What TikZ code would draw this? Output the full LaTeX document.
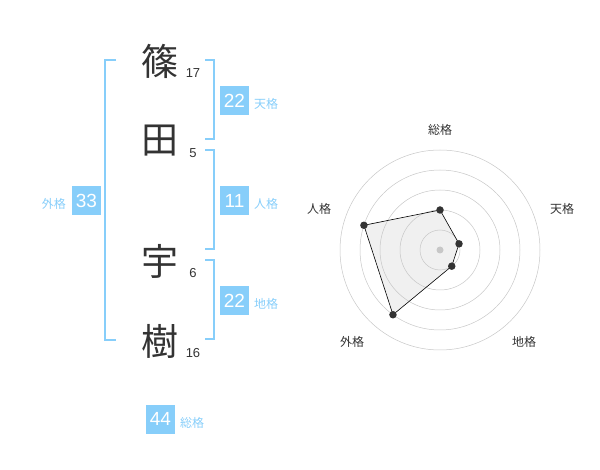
\documentclass[tikz,border=0pt]{standalone}
\usepackage{fontspec}
\usetikzlibrary{calc}
\setmainfont{Liberation Sans}
\newfontfamily\jp{Noto Sans CJK JP}
\definecolor{sky}{HTML}{87CEFA}
\definecolor{ink}{HTML}{333333}
\begin{document}
\begin{tikzpicture}[x=1pt,y=-1pt,
  kanji/.style={font=\jp\fontsize{37}{37}\selectfont, text=ink, inner sep=0pt},
  stroke/.style={font=\fontsize{13}{13}\selectfont, text=ink, inner sep=0pt},
  valbox/.style={fill=sky, text=white, font=\fontsize{19}{19}\selectfont, minimum width=29pt, minimum height=29pt, inner sep=0pt},
  vallabel/.style={text=sky, font=\jp\fontsize{12}{12}\selectfont, inner sep=0pt},
  brack/.style={draw=sky, line width=1.6pt},
  ring/.style={draw=black!22, line width=0.5pt},
  axlabel/.style={font=\jp\fontsize{12}{12}\selectfont, text=ink, inner sep=0pt},
  dot/.style={circle, fill=ink, inner sep=0pt, minimum size=7.5pt}]
\useasboundingbox (0,0) rectangle (600,470);
% kanji
\node[kanji] (k1) at (160,61) {篠};
\node[kanji] (k2) at (160,141) {田};
\node[kanji] (k3) at (160,261) {宇};
\node[kanji] (k4) at (160,341) {樹};
\node[stroke] (s1) at (193,73) {17};
\node[stroke] (s2) at (193,153) {5};
\node[stroke] (s3) at (193,273) {6};
\node[stroke] (s4) at (193,353) {16};
% brackets
\draw[brack] (116,60) -- (105,60) -- (105,340) -- (116,340);
\draw[brack] (205,60) -- (214,60) -- (214,139) -- (205,139);
\draw[brack] (205,150) -- (214,150) -- (214,249) -- (205,249);
\draw[brack] (205,260) -- (214,260) -- (214,339) -- (205,339);
% boxes
\node[valbox] (ten) at (234.5,100.5) {22};
\node[vallabel, anchor=west] (tenl) at (254,104) {天格};
\node[valbox] (jin) at (234.5,200.5) {11};
\node[vallabel, anchor=west] (jinl) at (254,204) {人格};
\node[valbox] (chi) at (234.5,300.5) {22};
\node[vallabel, anchor=west] (chil) at (254,304) {地格};
\node[valbox] (gai) at (86.5,200.5) {33};
\node[vallabel, anchor=east] (gail) at (66,204) {外格};
\node[valbox] (sou) at (160.5,419) {44};
\node[vallabel, anchor=west] (soul) at (180,423) {総格};
% radar
\coordinate (c) at (440,250);
\coordinate (pS) at ($(c)+(0,-40)$);
\path (c) ++(-18:20) coordinate (pT);
\path (c) ++(54:20) coordinate (pC);
\path (c) ++(126:80) coordinate (pG);
\path (c) ++(198:80) coordinate (pJ);
\path[fill=black!6] (pS) -- (pT) -- (pC) -- (pG) -- (pJ) -- cycle;
\foreach \r in {20,40,60,80,100} \draw[ring] (c) circle[radius=\r];
\draw[black, line width=0.6pt] (pS) -- (pT) -- (pC) -- (pG) -- (pJ) -- cycle;
\fill[black!22] (c) circle[radius=3.5];
\foreach \p in {pS,pT,pC,pG,pJ} \node[dot] at (\p) {};
\node[axlabel] (aS) at (440,130) {総格};
\node[axlabel] (aT) at (562,209) {天格};
\node[axlabel] (aC) at (524,342) {地格};
\node[axlabel] (aG) at (352,342) {外格};
\node[axlabel] (aJ) at (319,209) {人格};
\end{tikzpicture}
\end{document}
